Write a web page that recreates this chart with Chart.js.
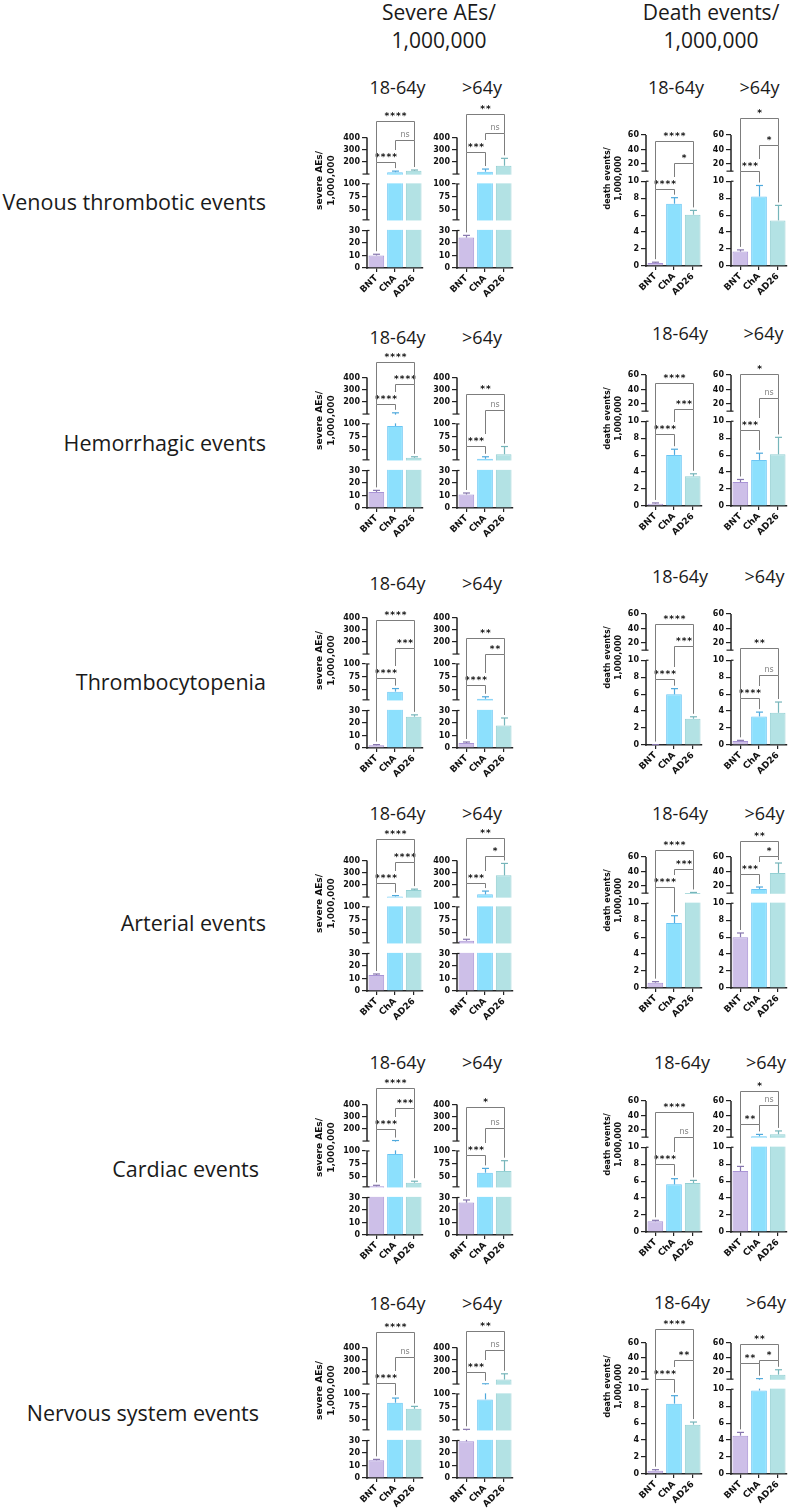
<!DOCTYPE html>
<html>
<head>
<meta charset="utf-8">
<script src="https://cdn.jsdelivr.net/npm/chart.js@4.4.1/dist/chart.umd.min.js"></script>
<style>
  body { margin: 0; background: #fff; width: 793px; height: 1511px; position: relative; overflow: hidden; font-family: "Open Sans", sans-serif; color: #1a1a1a; }
  .t { position: absolute; white-space: nowrap; transform: translate(-50%, -50%); }
  .colhead { font-size: 21px; line-height: 28px; text-align: center; }
  .rowlab { font-size: 21.5px; transform: translate(-100%, -50%); }
  .age { font-size: 18px; }
  canvas { position: absolute; }
</style>
</head>
<body>
<script>
// ---- data ----
const categories = ['BNT', 'ChA', 'AD26'];
const rowLabels = ['Venous thrombotic events', 'Hemorrhagic events', 'Thrombocytopenia', 'Arterial events', 'Cardiac events', 'Nervous system events'];
const ageGroups = ['18-64y', '>64y'];
const severeTicks = [0, 10, 20, 30, 50, 75, 100, 200, 300, 400];
const deathTicks = [0, 2, 4, 6, 8, 10, 20, 40, 60];

// mean per row: [BNT, ChA, AD26]
const severeYoungMean = [[10, 115, 127], [12.8, 96, 34], [2.1, 46, 25], [12.8, 105, 157], [31, 94, 38], [14.1, 82.9, 71]];
const severeYoungSem = [[1, 9, 6], [1.3, 14, 2], [0.6, 6, 1.5], [0.8, 7, 8], [2, 10, 3], [0.8, 9.1, 4.8]];
const severeOldMean = [[24.3, 119, 168], [10.8, 32, 41], [4, 32, 18], [34, 122, 278], [25.9, 57.6, 60.8], [29.3, 89.4, 137]];
const severeOldSem = [[1.8, 22, 61], [1.2, 4, 15], [0.8, 4, 6], [3, 27, 98], [2.1, 8.4, 20.2], [1.7, 12.6, 47]];
const deathYoungMean = [[0.36, 7.35, 6.05], [0.28, 6.03, 3.5], [0.04, 5.98, 3.09], [0.63, 7.66, 10.3], [1.26, 5.62, 5.78], [0.39, 8.3, 5.82]];
const deathYoungSem = [[0.09, 0.71, 0.51], [0.08, 0.67, 0.3], [0.01, 0.67, 0.24], [0.12, 0.87, 0.7], [0.12, 0.67, 0.31], [0.12, 0.94, 0.31]];
const deathOldMean = [[1.7, 8.2, 5.38], [2.82, 5.44, 6.1], [0.47, 3.37, 3.8], [6.0, 15.8, 38], [7.19, 11.2, 14], [4.52, 9.85, 16.2]];
const deathOldSem = [[0.2, 1.3, 1.77], [0.31, 0.79, 2.0], [0.08, 0.51, 1.27], [0.49, 2.7, 13.7], [0.55, 2.6, 4.6], [0.39, 0.85, 6.8]];

// significance brackets: [from, to, label, height]
const severeYoungSig = [
  [[0, 1, '****', 200], [1, 2, 'ns', 381], [0, 2, '****', 538]],
  [[0, 1, '****', 185], [1, 2, '****', 346], [0, 2, '****', 524]],
  [[0, 1, '****', 72], [1, 2, '***', 146], [0, 2, '****', 377]],
  [[0, 1, '****', 212], [1, 2, '****', 390], [0, 2, '****', 574]],
  [[0, 1, '****', 196], [1, 2, '***', 368], [0, 2, '****', 532]],
  [[0, 1, '****', 108], [1, 2, 'ns', 322], [0, 2, '****', 529]]
];
const severeOldSig = [
  [[0, 1, '***', 285], [1, 2, 'ns', 437], [0, 2, '**', 593]],
  [[0, 1, '***', 57.5], [1, 2, 'ns', 135], [0, 2, '**', 264]],
  [[0, 1, '****', 59.5], [1, 2, '**', 102.6], [0, 2, '**', 234]],
  [[0, 1, '***', 212], [1, 2, '*', 440], [0, 2, '**', 582]],
  [[0, 1, '***', 92], [1, 2, 'ns', 204], [0, 2, '*', 382]],
  [[0, 1, '***', 200], [1, 2, 'ns', 381], [0, 2, '**', 534]]
];
const deathYoungSig = [
  [[0, 1, '****', 9.1], [1, 2, '*', 20.9], [0, 2, '****', 52]],
  [[0, 1, '****', 8.5], [1, 2, '***', 13.5], [0, 2, '****', 49]],
  [[0, 1, '****', 7.84], [1, 2, '***', 16.2], [0, 2, '****', 45.7]],
  [[0, 1, '****', 18.5], [1, 2, '***', 43.4], [0, 2, '****', 70]],
  [[0, 1, '****', 8.06], [1, 2, 'ns', 10.1], [0, 2, '****', 44.8]],
  [[0, 1, '****', 10.2], [1, 2, '**', 37], [0, 2, '****', 79.3]]
];
const deathOldSig = [
  [[0, 1, '***', 10.7], [1, 2, '*', 46.6], [0, 2, '*', 83.5]],
  [[0, 1, '***', 8.96], [1, 2, 'ns', 28.2], [0, 2, '*', 61.8]],
  [[0, 1, '****', 5.5], [1, 2, 'ns', 8.3], [0, 2, '**', 12.6]],
  [[0, 1, '***', 37], [1, 2, '*', 61], [0, 2, '**', 81.7]],
  [[0, 1, '**', 28.7], [1, 2, 'ns', 54], [0, 2, '*', 74]],
  [[0, 1, '**', 32.4], [1, 2, '*', 36], [0, 2, '**', 58.6]]
];

// ---- styling / layout ----
const barFill = ['#cdbfe8', '#8ce0fd', '#b3e2e4'];
const barEdge = ['#a994d6', '#6cc6f4', '#94d0d3'];
const errColors = ['#8676ad', '#4fa9dc', '#76b5ba'];

// broken axis pieces: value range -> fraction of the axis length
const axisBreaks = {
  severe: [{ min: 0, max: 30, from: 0, to: 0.2875 }, { min: 30, max: 100, from: 0.369, to: 0.644 }, { min: 100, max: 400, from: 0.72, to: 1 }],
  death: [{ min: 0, max: 10, from: 0, to: 0.647 }, { min: 10, max: 60, from: 0.724, to: 1 }]
};
const axisTicks = { severe: severeTicks, death: deathTicks };

const severeZero = [268.3, 508, 747.7, 991, 1235, 1477.7];
const deathZero = [265.7, 505.7, 745.3, 988.3, 1231.7, 1474.3];
const severeAgeY = [87, 336.7, 583, 812.7, 1061.7, 1302.7];
const deathAgeY = [87, 333.3, 576, 812.7, 1061.7, 1301.7];
const deathAgeX = [[676, 759.5], [680, 763.5], [680, 764.5], [680, 764.5], [682, 766], [682, 766]];
const rowLabelY = [201, 441.7, 681, 922.3, 1168.3, 1411.7];
const rowLabelRight = [266, 266, 266, 266, 259, 259];

const CANVAS_H = 215, PAD_TOP = 8, X_H = 32;

// y scale with breaks
class BrokenScale extends Chart.LinearScale {
  determineDataLimits() {
    this.min = this.options.min;
    this.max = this.options.max;
  }
  buildTicks() {
    return axisTicks[this.options.breakKey].map(v => ({ value: v }));
  }
  fracOf(v) {
    const segs = axisBreaks[this.options.breakKey];
    let s = segs[segs.length - 1];
    for (const seg of segs) {
      if (v <= seg.max) { s = seg; break; }
    }
    return s.from + (v - s.min) / (s.max - s.min) * (s.to - s.from);
  }
  getPixelForValue(v) {
    return this.bottom - this.fracOf(v) * this.options.axisLength;
  }
  getValueForPixel(p) {
    const f = (this.bottom - p) / this.options.axisLength;
    const segs = axisBreaks[this.options.breakKey];
    let s = segs[segs.length - 1];
    for (const seg of segs) {
      if (f <= seg.to) { s = seg; break; }
    }
    return s.min + (f - s.from) / (s.to - s.from) * (s.max - s.min);
  }
}
BrokenScale.id = 'broken';
Chart.register(BrokenScale);

function line(ctx, x1, y1, x2, y2) {
  ctx.beginPath();
  ctx.moveTo(x1, y1);
  ctx.lineTo(x2, y2);
  ctx.stroke();
}

// error bars, axis breaks and significance brackets
function decoPlugin(p) {
  return {
    id: 'deco',
    afterDatasetsDraw(chart) {
      const { ctx, chartArea: area, scales: { x, y } } = chart;
      const segs = axisBreaks[p.kind];
      const L = y.options.axisLength;
      const pf = f => y.bottom - f * L;
      ctx.save();

      // error bars (upper only)
      const capTop = [];
      p.mean.forEach((m, i) => {
        const xc = Math.round(x.getPixelForValue(i)) + 0.5;
        const yb = y.getPixelForValue(m);
        const yt = y.getPixelForValue(m + p.sem[i]);
        capTop.push(yt);
        ctx.strokeStyle = errColors[i];
        ctx.lineWidth = 1.2;
        line(ctx, xc, yb, xc, yt);
        line(ctx, xc - 3.5, yt, xc + 3.5, yt);
      });

      // white gaps of the broken axis
      ctx.fillStyle = '#fff';
      for (let k = 1; k < segs.length; k++) {
        const top = pf(segs[k].from), bot = pf(segs[k - 1].to);
        ctx.fillRect(area.left - 2, top + 0.6, area.right - area.left + 4, bot - top - 1.2);
      }

      // y axis pieces
      const ax = area.left;
      ctx.strokeStyle = '#222';
      ctx.lineWidth = 1.5;
      segs.forEach((s, k) => {
        const a = pf(s.from) + (k === 0 ? 0.8 : 0);
        const b = pf(s.to);
        line(ctx, ax, a, ax, b);
        ctx.lineWidth = 1.2;
        if (k > 0) line(ctx, ax - 4.5, pf(s.from), ax + 2.5, pf(s.from));
        if (k < segs.length - 1) line(ctx, ax, b, ax + 2.5, b);
        ctx.lineWidth = 1.5;
      });

      // brackets
      const bs = p.sig.map(([i, j, label, v]) => {
        const x1 = Math.round(x.getPixelForValue(i)) + 0.5;
        const x2 = Math.round(x.getPixelForValue(j)) + 0.5;
        const ly = Math.round(y.getPixelForValue(v)) + 0.5;
        const ns = label === 'ns';
        const tw = ns ? 9 : label.length * 5.7;
        return { i, j, x1, x2, ly, label, ns, tw, tTop: ly - (ns ? 9 : 10.5) };
      });
      const legStop = (b, idx, side) => {
        const xx = Math.round(x.getPixelForValue(idx)) + 0.5;
        let stop = capTop[idx] - 3;
        bs.forEach(c => {
          if (c === b || c.ly <= b.ly) return;
          if (xx < c.x1 - 0.5 || xx > c.x2 + 0.5) return;
          const sameSide = (side === 'L' && c.i === idx) || (side === 'R' && c.j === idx);
          const mid = (c.x1 + c.x2) / 2;
          let s = c.ly;
          if (!sameSide && Math.abs(xx - mid) < c.tw / 2 + 3) s = c.tTop - 2;
          stop = Math.min(stop, s);
        });
        return Math.max(stop, b.ly);
      };
      bs.forEach(b => {
        ctx.strokeStyle = '#7d7d7d';
        ctx.lineWidth = 1;
        ctx.beginPath();
        ctx.moveTo(b.x1, legStop(b, b.i, 'L'));
        ctx.lineTo(b.x1, b.ly);
        ctx.lineTo(b.x2, b.ly);
        ctx.lineTo(b.x2, legStop(b, b.j, 'R'));
        ctx.stroke();
        const mid = (b.x1 + b.x2) / 2;
        ctx.textAlign = 'center';
        ctx.textBaseline = 'alphabetic';
        if (b.ns) {
          ctx.fillStyle = '#808080';
          ctx.font = '8px "DejaVu Sans"';
          ctx.fillText(b.label, mid, b.ly - 4);
        } else {
          ctx.fillStyle = '#111';
          ctx.font = 'bold 9px "DejaVu Sans"';
          const n = b.label.length;
          for (let k = 0; k < n; k++) {
            ctx.fillText('*', mid + (k - (n - 1) / 2) * 5.7, b.ly - 2.5);
          }
        }
      });
      ctx.restore();
    }
  };
}

function addPanel(def, r) {
  const zero = def.kind === 'severe' ? severeZero[r] : deathZero[r];
  const cv = document.createElement('canvas');
  const w = def.yw + 56 + 2;
  cv.width = w;
  cv.height = CANVAS_H;
  cv.style.left = def.left + 'px';
  cv.style.top = (zero - (CANVAS_H - X_H)) + 'px';
  cv.style.width = w + 'px';
  cv.style.height = CANVAS_H + 'px';
  document.body.appendChild(cv);

  const panel = { kind: def.kind, mean: def.mean[r], sem: def.sem[r], sig: def.sig[r] };
  const severe = def.kind === 'severe';

  new Chart(cv, {
    type: 'bar',
    data: {
      labels: categories,
      datasets: [{
        data: panel.mean,
        backgroundColor: barFill,
        borderColor: barEdge,
        borderWidth: 1,
        barPercentage: 0.84,
        categoryPercentage: 1
      }]
    },
    options: {
      responsive: false,
      animation: false,
      devicePixelRatio: 1,
      events: [],
      layout: { padding: { top: PAD_TOP, left: 0, right: 2, bottom: 0 } },
      plugins: { legend: { display: false }, tooltip: { enabled: false } },
      scales: {
        x: {
          type: 'category',
          offset: true,
          grid: { display: true, drawOnChartArea: false, drawTicks: true, tickLength: 4, offset: false, color: '#222', lineWidth: 1.2 },
          border: { display: true, color: '#222', width: 1.6 },
          ticks: { font: { family: 'DejaVu Sans', size: 9, weight: 'bold' }, color: '#111', minRotation: 45, maxRotation: 45, padding: 1, autoSkip: false },
          afterFit: s => { s.height = X_H; }
        },
        y: {
          type: 'broken',
          breakKey: def.kind,
          min: 0,
          max: severe ? 732 : 115,
          axisLength: severe ? 130.5 : 131,
          grid: { display: true, drawOnChartArea: false, drawTicks: true, tickLength: 5, color: '#222', lineWidth: 1.2 },
          border: { display: false },
          ticks: { font: { family: 'DejaVu Sans', size: 8, weight: 'bold' }, color: '#111', padding: 2, autoSkip: false, callback: v => String(v) },
          title: {
            display: !!def.title,
            text: def.title || '',
            color: '#111',
            padding: 0,
            font: { family: 'DejaVu Sans', size: severe ? 9 : 8, weight: 'bold', lineHeight: severe ? 1.3 : 1.45 }
          },
          afterFit: s => { s.width = def.yw; }
        }
      }
    },
    plugins: [decoPlugin(panel)]
  });
}

function addText(cls, html, x, y) {
  const d = document.createElement('div');
  d.className = 't ' + cls;
  d.innerHTML = html;
  d.style.left = x + 'px';
  d.style.top = y + 'px';
  document.body.appendChild(d);
}

const panelDefs = [
  { kind: 'severe', left: 314, yw: 53, mean: severeYoungMean, sem: severeYoungSem, sig: severeYoungSig, title: ['severe AEs/', '1,000,000'] },
  { kind: 'severe', left: 430, yw: 27, mean: severeOldMean, sem: severeOldSem, sig: severeOldSig },
  { kind: 'death', left: 602, yw: 44, mean: deathYoungMean, sem: deathYoungSem, sig: deathYoungSig, title: ['death events/', '1,000,000'] },
  { kind: 'death', left: 705, yw: 26, mean: deathOldMean, sem: deathOldSem, sig: deathOldSig }
];

addText('colhead', 'Severe AEs/<br>1,000,000', 439, 26);
addText('colhead', 'Death events/<br>1,000,000', 711, 26);

rowLabels.forEach((lab, r) => {
  addText('rowlab', lab, rowLabelRight[r], rowLabelY[r]);
  addText('age', ageGroups[0], 397.5, severeAgeY[r]);
  addText('age', ageGroups[1], 482, severeAgeY[r]);
  addText('age', ageGroups[0], deathAgeX[r][0], deathAgeY[r]);
  addText('age', ageGroups[1], deathAgeX[r][1], deathAgeY[r]);
  panelDefs.forEach(def => addPanel(def, r));
});
</script>
</body>
</html>
